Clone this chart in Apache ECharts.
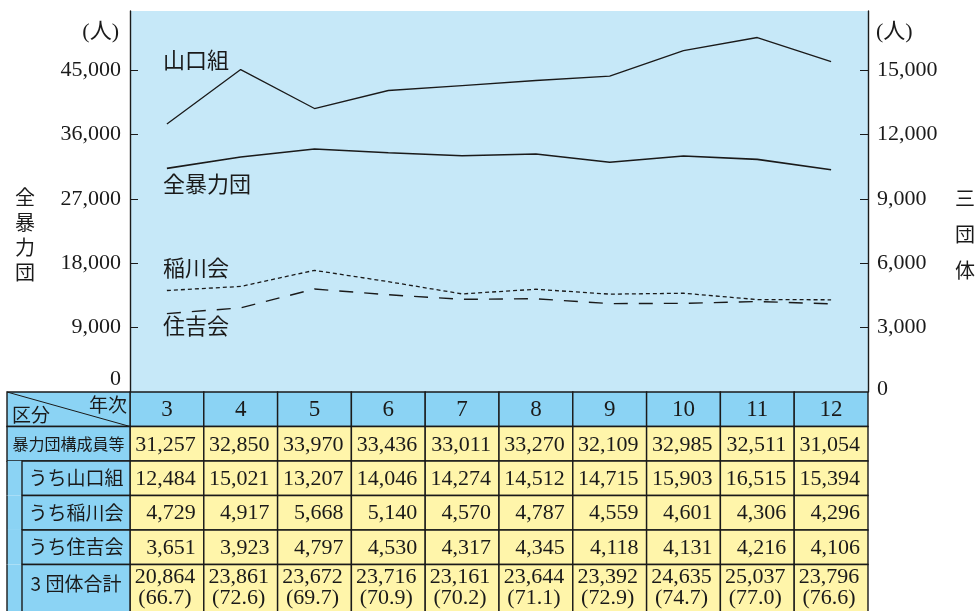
<!DOCTYPE html>
<html>
<head>
<meta charset="utf-8">
<script src="https://cdn.jsdelivr.net/npm/echarts@6/dist/echarts.min.js"></script>
<style>
  html, body { margin: 0; padding: 0; background: #fff; }
  #chart { width: 980px; height: 611px; }
</style>
</head>
<body>
<div id="chart"></div>
<script>
const years = ['3', '4', '5', '6', '7', '8', '9', '10', '11', '12']
const allGangs = [31257, 32850, 33970, 33436, 33011, 33270, 32109, 32985, 32511, 31054]
const yamaguchi = [12484, 15021, 13207, 14046, 14274, 14512, 14715, 15903, 16515, 15394]
const inagawa = [4729, 4917, 5668, 5140, 4570, 4787, 4559, 4601, 4306, 4296]
const sumiyoshi = [3651, 3923, 4797, 4530, 4317, 4345, 4118, 4131, 4216, 4106]
const threeTotal = [20864, 23861, 23672, 23716, 23161, 23644, 23392, 24635, 25037, 23796]
const threeShare = ['66.7', '72.6', '69.7', '70.9', '70.2', '71.1', '72.9', '74.7', '77.0', '76.6']
const rowLabels = ['暴力団構成員等', 'うち山口組', 'うち稲川会', 'うち住吉会', '3 団体合計']
const leftTicks = [0, 9000, 18000, 27000, 36000, 45000]
const rightTicks = [0, 3000, 6000, 9000, 12000, 15000]

const NUM_FONT = '"Liberation Serif", "Noto Sans CJK JP", serif'
const JP_FONT = '"Noto Sans CJK JP", sans-serif'
const INK = '#1a1a1a'
const PLOT_BG = '#c6e8f8'
const HEAD_BG = '#8bd3f4'
const CELL_BG = '#fff5aa'
const fmt = (v) => v.toLocaleString('en-US')

// table cells: [col, row, text, kind, span]
const tableRows = [allGangs, yamaguchi, inagawa, sumiyoshi]
const cellData = []
years.forEach((y, i) => {
  cellData.push([i, 0, y, 'head', 1])
  tableRows.forEach((row, r) => cellData.push([i, r + 1, fmt(row[i]), 'num', 1]))
  cellData.push([i, 5, fmt(threeTotal[i]) + '\n(' + threeShare[i] + ')', 'total', 2])
})
const labelData = [[0, 0], [0, 1], [0, 2], [0, 3], [0, 4], [0, 5]]

function textEl(text, x, y, align, vAlign, size, family, extra) {
  return {
    type: 'text',
    style: Object.assign({
      text, x, y, fill: INK, fontSize: size, fontFamily: family,
      align, verticalAlign: vAlign, textAlign: align, textVerticalAlign: vAlign
    }, extra || {})
  }
}

function renderCell(params, api) {
  const cell = cellData[params.dataIndex]
  const w = api.size([1, 0])[0]
  const unit = api.size([0, 1])[1]
  const pt = api.coord([cell[0], cell[1]])
  const x = pt[0] - w / 2
  const y = pt[1]
  const h = unit * cell[4]
  const kind = cell[3]
  const children = [{
    type: 'rect',
    shape: { x, y, width: w, height: h },
    style: { fill: kind === 'head' ? HEAD_BG : CELL_BG, stroke: INK, lineWidth: 1.4 }
  }]
  if (kind === 'head') {
    children.push(textEl(cell[2], x + w / 2, y + unit / 2 + 1, 'center', 'middle', 23, NUM_FONT))
  } else if (kind === 'num') {
    children.push(textEl(cell[2], x + w - 8, y + unit / 2 + 1, 'right', 'middle', 22, NUM_FONT))
  } else {
    children.push(textEl(cell[2], x + w / 2 - 2, y + 2, 'center', 'top', 22, NUM_FONT, { lineHeight: 21 }))
  }
  return { type: 'group', children }
}

function renderLabel(params, api) {
  const row = labelData[params.dataIndex][1]
  const w = api.size([1, 0])[0]
  const unit = api.size([0, 1])[1]
  const pt = api.coord([0, row])
  const right = pt[0] - w / 2
  const y = pt[1]
  const outer = 7
  const inner = 22
  const children = []
  if (row === 0) {
    children.push({ type: 'rect', shape: { x: outer, y, width: right - outer, height: unit },
      style: { fill: HEAD_BG, stroke: INK, lineWidth: 1.4 } })
    children.push({ type: 'line', shape: { x1: outer, y1: y, x2: right, y2: y + unit },
      style: { stroke: INK, lineWidth: 1 } })
    children.push(textEl('区分', outer + 5, y + unit * 0.66, 'left', 'middle', 19, JP_FONT))
    children.push(textEl('年次', right - 3, y + unit * 0.38, 'right', 'middle', 19, JP_FONT))
  } else if (row === 1) {
    children.push({ type: 'rect', shape: { x: outer, y, width: right - outer, height: unit },
      style: { fill: HEAD_BG, stroke: INK, lineWidth: 1.4 } })
    children.push(textEl(rowLabels[0], (outer + right) / 2, y + unit / 2, 'center', 'middle', 16, JP_FONT))
  } else {
    const h = row === 5 ? unit * 2 : unit
    children.push({ type: 'rect', shape: { x: outer, y, width: inner - outer, height: h },
      style: { fill: HEAD_BG } })
    children.push({ type: 'line', shape: { x1: outer, y1: y, x2: outer, y2: y + h },
      style: { stroke: INK, lineWidth: 1.4 } })
    children.push({ type: 'rect', shape: { x: inner, y, width: right - inner, height: h },
      style: { fill: HEAD_BG, stroke: INK, lineWidth: 1.4 } })
    const ty = row === 5 ? y + unit * 0.55 : y + unit / 2
    children.push(textEl(rowLabels[row - 1], (inner + right) / 2, ty, 'center', 'middle', 19, JP_FONT))
  }
  return { type: 'group', children }
}

const chart = echarts.init(document.getElementById('chart'))

const lineLabels = [
  { text: '山口組', y: 60 },
  { text: '全暴力団', y: 184 },
  { text: '稲川会', y: 268 },
  { text: '住吉会', y: 326 }
]

const option = {
  animation: false,
  grid: [
    { left: 130, right: 112, top: 11, bottom: 219, show: true, backgroundColor: PLOT_BG, borderWidth: 0 },
    { left: 130, right: 112, top: 392, bottom: 0 }
  ],
  xAxis: [
    { type: 'category', data: years, gridIndex: 0, boundaryGap: true,
      axisLine: { show: false }, axisTick: { show: false }, axisLabel: { show: false } },
    { type: 'category', data: years, gridIndex: 1, show: false }
  ],
  yAxis: [
    {
      type: 'value', gridIndex: 0, position: 'left', min: 0, max: 53250, interval: 9000,
      splitLine: { show: false },
      axisLine: { show: true, lineStyle: { color: INK, width: 1.4 } },
      axisTick: { show: true, inside: true, length: 8, lineStyle: { color: INK }, customValues: leftTicks },
      axisLabel: {
        customValues: leftTicks, margin: 9, color: INK,
        fontSize: 22, fontFamily: NUM_FONT,
        formatter: (v) => (v === 0 ? '{z|0}' : fmt(v)),
        rich: { z: { fontSize: 22, fontFamily: NUM_FONT, color: INK, padding: [0, 0, 26, 0] } }
      }
    },
    {
      type: 'value', gridIndex: 0, position: 'right', min: 0, max: 17750, interval: 3000,
      splitLine: { show: false },
      axisLine: { show: true, lineStyle: { color: INK, width: 1.4 } },
      axisTick: { show: true, inside: true, length: 8, lineStyle: { color: INK }, customValues: rightTicks },
      axisLabel: {
        customValues: rightTicks, margin: 9, color: INK,
        fontSize: 22, fontFamily: NUM_FONT,
        formatter: (v) => (v === 0 ? '{z|0}' : fmt(v)),
        rich: { z: { fontSize: 22, fontFamily: NUM_FONT, color: INK, padding: [0, 0, 6, 0] } }
      }
    },
    { type: 'value', gridIndex: 1, min: 0, max: 6.35, inverse: true, show: false }
  ],
  series: [
    { name: '山口組', type: 'line', xAxisIndex: 0, yAxisIndex: 1, data: yamaguchi, symbol: 'none',
      lineStyle: { color: INK, width: 1.3 } },
    { name: '全暴力団', type: 'line', xAxisIndex: 0, yAxisIndex: 0, data: allGangs, symbol: 'none',
      lineStyle: { color: INK, width: 1.6 } },
    { name: '稲川会', type: 'line', xAxisIndex: 0, yAxisIndex: 1, data: inagawa, symbol: 'none',
      lineStyle: { color: INK, width: 1.3, type: [4, 3] } },
    { name: '住吉会', type: 'line', xAxisIndex: 0, yAxisIndex: 1, data: sumiyoshi, symbol: 'none',
      lineStyle: { color: INK, width: 1.4, type: [14, 11] } },
    { type: 'custom', xAxisIndex: 1, yAxisIndex: 2, data: cellData.map((c) => [c[0], c[1]]),
      renderItem: renderCell, silent: true, clip: false, z: 5 },
    { type: 'custom', xAxisIndex: 1, yAxisIndex: 2, data: labelData,
      renderItem: renderLabel, silent: true, clip: false, z: 5 }
  ],
  graphic: [
    ...lineLabels.map((l) => ({
      type: 'text', x: 163, y: l.y, z: 10,
      style: { text: l.text, fill: INK, fontSize: 22, fontFamily: JP_FONT,
        align: 'left', verticalAlign: 'middle', textAlign: 'left', textVerticalAlign: 'middle' }
    })),
    { type: 'text', x: 119, y: 32, style: { text: '(人)', fill: INK, fontSize: 22, fontFamily: NUM_FONT,
      align: 'right', verticalAlign: 'middle', textAlign: 'right', textVerticalAlign: 'middle' } },
    { type: 'text', x: 876, y: 32, style: { text: '(人)', fill: INK, fontSize: 22, fontFamily: NUM_FONT,
      align: 'left', verticalAlign: 'middle', textAlign: 'left', textVerticalAlign: 'middle' } },
    { type: 'text', x: 25, y: 235, style: { text: '全\n暴\n力\n団', fill: INK, fontSize: 20, lineHeight: 25,
      fontFamily: JP_FONT, align: 'center', verticalAlign: 'middle', textAlign: 'center', textVerticalAlign: 'middle' } },
    { type: 'text', x: 965, y: 234, style: { text: '三\n団\n体', fill: INK, fontSize: 20, lineHeight: 36,
      fontFamily: JP_FONT, align: 'center', verticalAlign: 'middle', textAlign: 'center', textVerticalAlign: 'middle' } }
  ]
}

chart.setOption(option)
</script>
</body>
</html>
